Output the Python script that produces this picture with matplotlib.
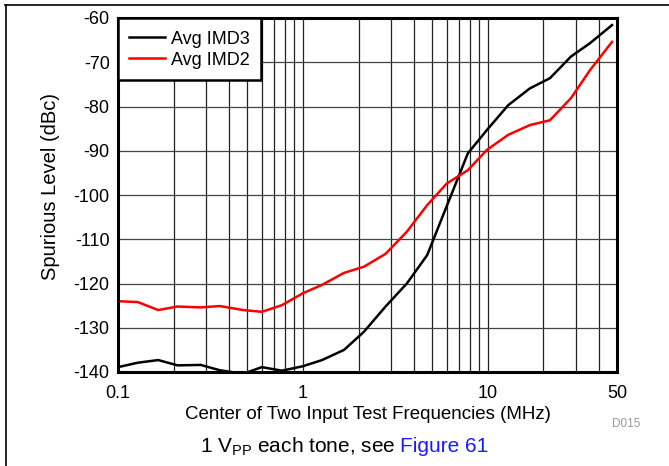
import matplotlib
matplotlib.use("Agg")
import matplotlib.pyplot as plt
from matplotlib.lines import Line2D
from matplotlib.ticker import FixedLocator, NullFormatter

plt.rcParams['font.family'] = ['Liberation Sans', 'DejaVu Sans']
plt.rcParams['axes.unicode_minus'] = False
plt.rcParams['mathtext.fontset'] = 'custom'
plt.rcParams['mathtext.rm'] = 'Liberation Sans'
plt.rcParams['mathtext.default'] = 'regular'

# data (MHz, dBc)
freq = [0.1, 0.128, 0.165, 0.21, 0.28, 0.355, 0.475, 0.6, 0.77, 1.0, 1.27, 1.67,
        2.14, 2.8, 3.65, 4.7, 6.0, 7.8, 9.9, 12.9, 16.9, 21.7, 28.2, 35.7, 47]
imd3 = [-138.9, -137.9, -137.3, -138.5, -138.4, -139.6, -140.4, -138.9, -139.7,
        -138.7, -137.3, -135.0, -130.9, -125.2, -120.0, -113.6, -102.5, -90.6,
        -85.3, -79.7, -75.9, -73.6, -68.7, -65.7, -61.6]
imd2 = [-124.0, -124.2, -126.0, -125.2, -125.4, -125.1, -126.0, -126.4, -124.9,
        -122.2, -120.3, -117.6, -116.2, -113.3, -108.3, -102.3, -97.4, -94.4,
        -89.8, -86.4, -84.2, -83.1, -78.1, -71.8, -65.4]
series_names = ["Avg IMD3", "Avg IMD2"]
series_colors = ["black", "red"]

xticks = [0.1, 1, 10, 50]
xticklabels = ["0.1", "1", "10", "50"]
minor_x = [0.2, 0.3, 0.4, 0.5, 0.6, 0.7, 0.8, 0.9,
           2, 3, 4, 5, 6, 7, 8, 9, 20, 30, 40]
yticks = list(range(-140, -59, 10))

fig = plt.figure(figsize=(6.69, 4.66), dpi=100)
ax = fig.add_axes([118/669, 1 - 372/466, 499/669, 354/466])

for ys, name, c in zip([imd3, imd2], series_names, series_colors):
    ax.plot(freq, ys, color=c, lw=1.8, label=name, zorder=3)

ax.set_xscale('log')
ax.set_xlim(0.1, 50)
ax.set_ylim(-140, -60)
ax.set_xticks(xticks)
ax.set_xticklabels(xticklabels)
ax.xaxis.set_minor_locator(FixedLocator(minor_x))
ax.xaxis.set_minor_formatter(NullFormatter())
ax.set_yticks(yticks)
ax.tick_params(which='both', length=0, labelsize=13)
ax.tick_params(axis='x', pad=9)
ax.tick_params(axis='y', pad=6)
ax.grid(True, which='both', axis='x', color='#222222', lw=0.9)
ax.grid(True, which='major', axis='y', color='#444444', lw=0.9)
for s in ax.spines.values():
    s.set_linewidth(2.2)
    s.set_zorder(4)

ax.set_ylabel("Spurious Level (dBc)", fontsize=14.5)
ax.yaxis.set_label_coords(-0.117, 0.523)
ax.set_xlabel("Center of Two Input Test Frequencies (MHz)", fontsize=13.5, labelpad=3)

leg = ax.legend(loc='upper left', fontsize=13, fancybox=False, framealpha=1,
                edgecolor='black', borderaxespad=0, handlelength=2.0,
                handleheight=1.2, borderpad=0.6, labelspacing=0.1,
                handletextpad=0.35)
leg.get_frame().set_linewidth(1.8)
leg.set_zorder(5)

fig.text(626/669, 1 - 424/466, "D015", color='#999999', fontsize=8.5, ha='center', va='center')

t1 = fig.text(200/669, 1 - 447/466, r"1 V$_{PP}$ each tone, see", fontsize=15,
              ha='left', va='center')
fig.canvas.draw()
bb = t1.get_window_extent()
fig.text((bb.x1 + 5) / fig.bbox.width, 1 - 447/466, "Figure 61", color='#1a1aff',
         fontsize=15, ha='left', va='center')

# figure border lines (top and left)
fig.add_artist(Line2D([5/669, 1], [1 - 5/466, 1 - 5/466], color='black', lw=1.2,
                      transform=fig.transFigure))
fig.add_artist(Line2D([6/669, 6/669], [0, 1 - 5/466], color='black', lw=1.2,
                      transform=fig.transFigure))

fig.savefig("out.png", dpi=100)
